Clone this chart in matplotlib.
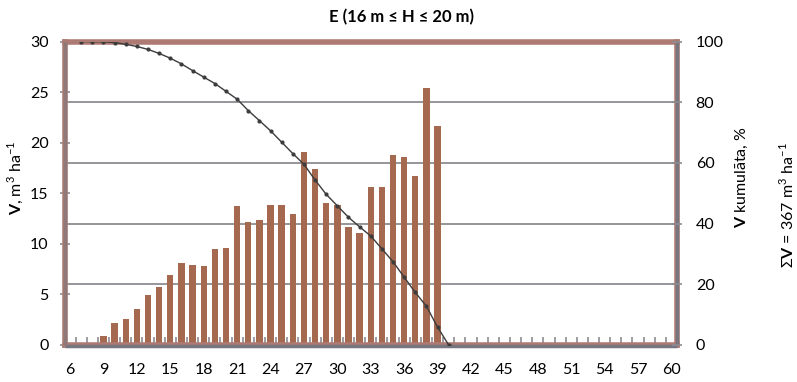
import matplotlib
matplotlib.use("Agg")
import matplotlib.pyplot as plt
import numpy as np

# volume per height class, m3/ha
heights = list(range(7, 40))
volume = [0.2, 0.2, 0.9, 2.15, 2.6, 3.55, 4.9, 5.75, 6.95, 8.1, 7.9, 7.8,
          9.45, 9.6, 13.75, 12.2, 12.35, 13.85, 13.85, 12.95, 19.1, 17.4,
          14.0, 13.85, 11.65, 11.1, 15.6, 15.6, 18.75, 18.6, 16.7, 25.4, 21.65]

# cumulative share of volume, %
cum_heights = list(range(7, 41))
cum_share = [100.0, 99.95, 99.89, 99.65, 99.06, 98.36, 97.39, 96.06, 94.5,
             92.62, 90.42, 88.27, 86.16, 83.59, 80.99, 77.25, 73.94, 70.59,
             66.83, 63.07, 59.55, 54.37, 49.65, 45.85, 42.09, 38.92, 35.91,
             31.68, 27.44, 22.35, 17.3, 12.77, 5.88, 0.0]

x_ticks = list(range(6, 61, 3))
left_ticks = [0, 5, 10, 15, 20, 25, 30]
right_ticks = [0, 20, 40, 60, 80, 100]

bar_color = "#a5694f"
grid_color = "#8c8c92"
frame_color = "#ad7b74"
axis_color = "#76767e"

plt.rcParams["font.family"] = ["Lato", "DejaVu Sans"]
plt.rcParams["mathtext.fontset"] = "custom"
plt.rcParams["mathtext.rm"] = "Lato"
plt.rcParams["mathtext.bf"] = "Lato:bold"
plt.rcParams["font.size"] = 11.5

W, H = 797, 382
fig = plt.figure(figsize=(W / 100, H / 100), dpi=100)
x0, x1, y0, y1 = 64.5, 677, 41.5, 345
ax = fig.add_axes([x0 / W, 1 - y1 / H, (x1 - x0) / W, (y1 - y0) / H])

for g in [6, 12, 18, 24]:
    ax.axhline(g, color=grid_color, lw=1.3, zorder=1)
ax.bar(heights, volume, width=0.57, color=bar_color, zorder=2)

ax.set_xlim(5.5, 60.5)
ax.set_ylim(0, 30)
ax.set_xticks(x_ticks)
ax.set_xticks(np.arange(5.5, 61, 1), minor=True)
ax.set_yticks(left_ticks)
ax.tick_params(axis="x", which="major", length=0, pad=13)
ax.tick_params(axis="x", which="minor", direction="in", length=6,
               width=1.2, color=grid_color)
ax.tick_params(axis="y", direction="inout", length=7, width=1.2,
               color=grid_color, pad=8)

for s in ax.spines.values():
    s.set_color(frame_color)
    s.set_linewidth(4)
    s.set_zorder(4)

ax2 = ax.twinx()
ax2.set_ylim(0, 100)
ax2.set_yticks(right_ticks)
ax2.tick_params(axis="y", direction="inout", length=7, width=1.2,
                color=grid_color, pad=10)
for s in ax2.spines.values():
    s.set_visible(False)
ax2.plot(cum_heights, cum_share, color="#3c3c3c", lw=1, marker="o",
         markersize=2, zorder=3)

# grey axis lines over the brown frame, pushed slightly outward
off = 1.2 / (y1 - y0)
ax.plot([0, 1], [-off, -off], transform=ax.transAxes, color=axis_color,
        lw=2.5, clip_on=False, zorder=5, solid_capstyle="butt")
ax.plot([1, 1], [0, 1], transform=ax.transAxes, color=axis_color, lw=2.5,
        clip_on=False, zorder=5, solid_capstyle="butt")
ax.plot([0, 0], [0, 1], transform=ax.transAxes, color="#8e7878", lw=2.5,
        clip_on=False, zorder=5, solid_capstyle="butt")

fig.text(402 / W, 1 - 17 / H, "E (16 m ≤ H ≤ 20 m)", ha="center",
         va="center", fontweight="bold", fontsize=12)
fig.text(15 / W, 1 - 178 / H, r"$\mathbf{V}$, m$^{3}$ ha$^{-1}$",
         rotation=90, ha="center", va="center")
fig.text(742 / W, 1 - 177 / H, r"$\mathbf{V}$ kumulāta, %",
         rotation=90, ha="center", va="center")
fig.text(787 / W, 1 - 205 / H, r"Σ$\mathbf{V}$ = 367 m$^{3}$ ha$^{-1}$",
         rotation=90, ha="center", va="center")

fig.savefig("out.png", dpi=100)
